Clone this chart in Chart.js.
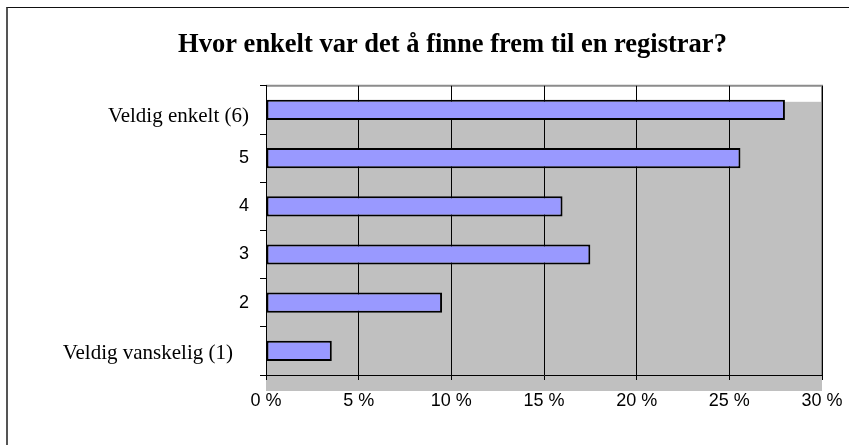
<!DOCTYPE html>
<html>
<head>
<meta charset="utf-8">
<script src="https://cdn.jsdelivr.net/npm/chart.js@4.4.0/dist/chart.umd.min.js"></script>
<style>
  html, body { margin: 0; padding: 0; background: #fff; }
  #wrap { position: relative; width: 849px; height: 445px; }
  #frame { position: absolute; left: 6px; top: 7px; right: -4px; bottom: -4px; border-left: 2px solid #555; border-top: 1px solid #111; pointer-events: none; }
  canvas { display: block; }
</style>
</head>
<body>
<div id="wrap">
  <canvas id="chart" width="849" height="445"></canvas>
  <div id="frame"></div>
</div>
<script>
  const categories = ["Veldig enkelt (6)", "5", "4", "3", "2", "Veldig vanskelig (1)"];
  const percentValues = [28.0, 25.6, 16.0, 17.5, 9.5, 3.55];
  const xTicks = [0, 5, 10, 15, 20, 25, 30];
  const chartTitle = "Hvor enkelt var det å finne frem til en registrar?";

  // grått plottområde, litt forskjøvet nedover som i originalen
  const plotBackground = {
    id: "plotBackground",
    beforeDraw(chart) {
      const { ctx, chartArea: a } = chart;
      ctx.save();
      ctx.fillStyle = "#c0c0c0";
      ctx.fillRect(a.left, a.top + 16, a.right - a.left, a.bottom - a.top);
      ctx.strokeStyle = "#8c8c8c";
      ctx.lineWidth = 2;
      ctx.beginPath();
      ctx.moveTo(a.left, a.top);
      ctx.lineTo(a.right, a.top);
      ctx.lineTo(a.right, a.bottom);
      ctx.stroke();
      ctx.restore();
    },
  };

  // tittel litt til høyre, og serif-etikettene litt forskjøvet som i originalen
  const layoutTweaks = {
    id: "layoutTweaks",
    afterLayout(chart) {
      if (chart.titleBlock) chart.titleBlock.left = 83;
    },
    afterUpdate(chart) {
      const items = chart.scales.y.getLabelItems();
      if (items[0]) items[0].options.translation[1] += 7;
      if (items[5]) {
        items[5].options.translation[0] -= 16;
        items[5].options.translation[1] += 3;
      }
    },
  };

  const serif = "'Liberation Serif', 'Times New Roman', serif";
  const sans = "'Liberation Sans', Arial, sans-serif";

  new Chart(document.getElementById("chart"), {
    type: "bar",
    data: {
      labels: categories,
      datasets: [
        {
          data: percentValues,
          backgroundColor: "#9999ff",
          borderColor: "#000000",
          borderWidth: 2,
          borderSkipped: false,
          barPercentage: 0.42,
          categoryPercentage: 1,
        },
      ],
    },
    options: {
      indexAxis: "y",
      responsive: false,
      animation: false,
      layout: { padding: { left: 0, right: 27, top: 0, bottom: 0 } },
      plugins: {
        legend: { display: false },
        tooltip: { enabled: false },
        title: {
          display: true,
          text: chartTitle,
          color: "#000",
          font: { family: serif, size: 26.5, weight: "bold", lineHeight: 1.2 },
          padding: { top: 29, bottom: 25 },
        },
      },
      scales: {
        x: {
          min: 0,
          max: 30,
          afterBuildTicks: (scale) => {
            scale.ticks = xTicks.map((v) => ({ value: v }));
          },
          afterFit: (scale) => {
            scale.height = 70;
            scale.paddingLeft = 0;
            scale.paddingRight = 0;
          },
          grid: {
            color: "#000",
            lineWidth: 1,
            tickLength: 5,
            drawTicks: true,
          },
          border: { color: "#000", width: 1 },
          ticks: {
            color: "#000",
            padding: 10,
            maxRotation: 0,
            font: { family: sans, size: 18 },
            callback: (v) => v + " %",
          },
        },
        y: {
          afterFit: (scale) => {
            scale.width = 266;
            scale.paddingTop = 0;
            scale.paddingBottom = 0;
          },
          grid: {
            drawOnChartArea: false,
            drawTicks: true,
            tickLength: 6,
            color: "#000",
          },
          border: { color: "#000", width: 1 },
          ticks: {
            color: "#000",
            padding: 11,
            font: (ctx) => {
              const label = categories[ctx.index] || "";
              return label.length > 2
                ? { family: serif, size: 21 }
                : { family: sans, size: 18 };
            },
          },
        },
      },
    },
    plugins: [plotBackground, layoutTweaks],
  });
</script>
</body>
</html>
